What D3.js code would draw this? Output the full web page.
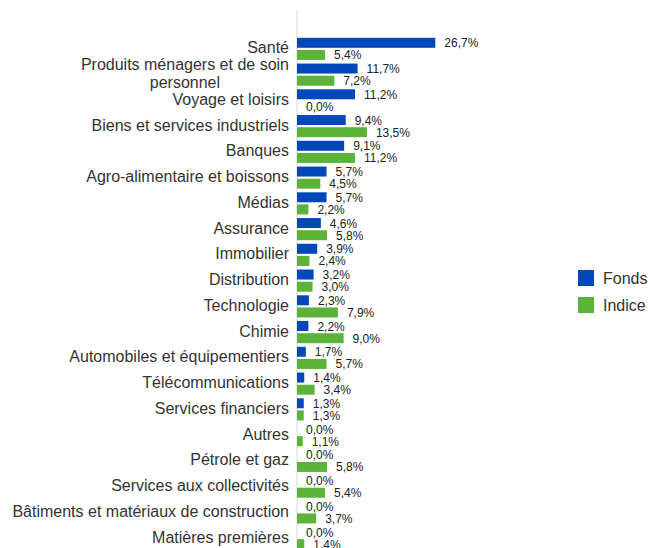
<!DOCTYPE html>
<html>
<head>
<meta charset="utf-8">
<script src="https://cdn.jsdelivr.net/npm/d3@7"></script>
<style>
  body { margin: 0; background: #fff; }
  svg { display: block; font-family: "Liberation Sans", Arial, sans-serif; }
</style>
</head>
<body>
<svg id="chart" width="648" height="548"></svg>
<script>
// sector breakdown, fund vs index (%)
const categories = [
  'Santé',
  'Produits ménagers et de soin\npersonnel',
  'Voyage et loisirs',
  'Biens et services industriels',
  'Banques',
  'Agro-alimentaire et boissons',
  'Médias',
  'Assurance',
  'Immobilier',
  'Distribution',
  'Technologie',
  'Chimie',
  'Automobiles et équipementiers',
  'Télécommunications',
  'Services financiers',
  'Autres',
  'Pétrole et gaz',
  'Services aux collectivités',
  'Bâtiments et matériaux de construction',
  'Matières premières'
];
const fonds  = [26.7, 11.7, 11.2, 9.4, 9.1, 5.7, 5.7, 4.6, 3.9, 3.2, 2.3, 2.2, 1.7, 1.4, 1.3, 0.0, 0.0, 0.0, 0.0, 0.0];
const indice = [5.4, 7.2, 0.0, 13.5, 11.2, 4.5, 2.2, 5.8, 2.4, 3.0, 7.9, 9.0, 5.7, 3.4, 1.3, 1.1, 5.8, 5.4, 3.7, 1.4];
const seriesNames = ['Fonds', 'Indice'];
const colors = ['#0047BA', '#5BB339'];

const rows = categories.map((c, i) => ({ cat: c, values: [fonds[i], indice[i]] }));

const svg = d3.select('#chart');
const x0 = 297;

const x = d3.scaleLinear().domain([0, 30]).range([x0, x0 + 155.4]);

const y = d3.scaleBand()
  .domain(categories)
  .range([36, 551])
  .paddingInner(0.14)
  .paddingOuter(0.07);

const ySub = d3.scaleBand()
  .domain(seriesNames)
  .range([0, y.bandwidth()])
  .paddingInner(0.18);

const fmt = v => v.toFixed(1).replace('.', ',') + '%';

// vertical axis line
svg.append('line')
  .attr('x1', x0).attr('x2', x0)
  .attr('y1', 10).attr('y2', 548)
  .attr('stroke', '#d9d9d9')
  .attr('stroke-width', 1);

// category labels
const yAxis = svg.append('g')
  .attr('transform', `translate(${x0 - 8},0)`)
  .call(d3.axisLeft(y).tickSize(0).tickPadding(0).tickFormat(''));
yAxis.select('.domain').remove();

yAxis.selectAll('.tick').each(function(d) {
  const lines = d.split('\n');
  const t = d3.select(this).append('text')
    .attr('fill', '#333333')
    .attr('font-size', 16)
    .attr('text-anchor', lines.length > 1 ? 'middle' : 'end');
  lines.forEach((ln, k) => {
    t.append('tspan')
      .attr('x', 0)
      .attr('y', 4.5 + (k - (lines.length - 1) / 2) * 18.5)
      .text(ln);
  });
  if (lines.length > 1) {
    const w = t.node().getBBox().width;
    t.selectAll('tspan').attr('x', -w / 2);
  }
});

// bars
const groups = svg.append('g').selectAll('g')
  .data(rows)
  .join('g')
  .attr('transform', d => `translate(0,${y(d.cat)})`);

groups.selectAll('rect')
  .data(d => d.values.map((v, k) => ({ v, s: seriesNames[k], k })))
  .join('rect')
  .attr('x', x(0))
  .attr('y', d => ySub(d.s))
  .attr('width', d => x(d.v) - x(0))
  .attr('height', ySub.bandwidth())
  .attr('fill', d => colors[d.k]);

groups.selectAll('text.val')
  .data(d => d.values.map((v, k) => ({ v, s: seriesNames[k], k })))
  .join('text')
  .attr('class', 'val')
  .attr('x', d => x(d.v) + 9)
  .attr('y', d => ySub(d.s) + ySub.bandwidth() / 2 + 4.5)
  .attr('font-size', 12)
  .attr('fill', '#222222')
  .text(d => fmt(d.v));

// legend
const legend = svg.append('g')
  .selectAll('g')
  .data(seriesNames)
  .join('g')
  .attr('transform', (d, i) => `translate(578,${270 + i * 27})`);

legend.append('rect')
  .attr('width', 16).attr('height', 16)
  .attr('fill', (d, i) => colors[i]);

legend.append('text')
  .attr('x', 25).attr('y', 14)
  .attr('font-size', 16)
  .attr('fill', '#333333')
  .text(d => d);
</script>
</body>
</html>
